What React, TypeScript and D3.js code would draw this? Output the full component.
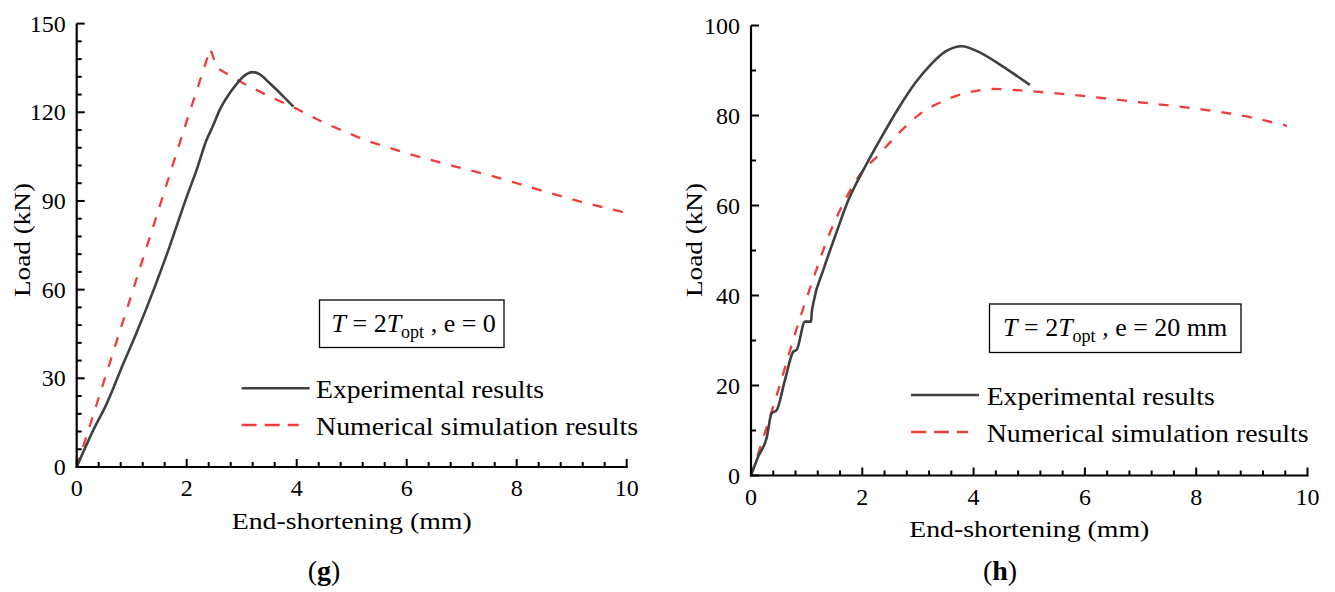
import React from 'react';
import * as d3 from 'd3';

type Pt = [number, number];

const xTicks = [0, 2, 4, 6, 8, 10];
const leftYTicks = [0, 30, 60, 90, 120, 150];
const rightYTicks = [0, 20, 40, 60, 80, 100];
const legendLabels = ['Experimental results', 'Numerical simulation results'];
const panelLetters = ['g', 'h'];
const eccentricityLabels = ['0', '20 mm'];
const xTitle = 'End-shortening (mm)';
const yTitle = 'Load (kN)';

const leftExperimental: Pt[] = [
  [0, 0], [0.33, 13.6], [0.51, 20.0], [0.85, 35.1], [1.09, 45.5], [1.39, 59.5],
  [1.64, 72.0], [2.0, 91.4], [2.18, 100.5], [2.36, 110.6], [2.48, 115.5],
  [2.6, 120.8], [2.75, 125.6], [2.91, 129.6], [3.05, 132.4], [3.2, 133.6], [3.33, 132.8],
  [3.51, 129.8], [3.76, 125.3], [3.94, 121.9],
];

const leftNumerical: Pt[] = [
  [0, 0], [1.0, 58.5], [2.0, 117.0], [2.43, 141.5], [2.55, 135.0],
  [3.03, 129.8], [3.51, 125.3], [3.99, 121.3], [4.51, 116.3], [5.27, 110.4],
  [6.06, 105.8], [6.85, 101.8], [7.64, 98.0], [8.42, 93.7], [9.21, 89.5], [10.0, 85.9],
];

const rightExperimental: Pt[] = [
  [0, 0], [0.13, 4.2], [0.28, 8.3], [0.37, 13.8], [0.46, 14.5], [0.61, 21.2],
  [0.76, 27.5], [0.82, 27.9], [0.97, 34.2], [1.08, 34.2], [1.09, 36.0],
  [1.12, 38.3], [1.30, 45.7], [1.51, 53.1], [1.75, 61.2], [2.02, 67.9],
  [2.35, 75.3], [2.65, 81.6], [2.95, 87.2], [3.25, 91.6], [3.49, 94.2],
  [3.79, 95.4], [4.08, 94.2], [4.44, 91.6], [4.80, 88.6], [5.01, 86.8],
];

const rightNumerical: Pt[] = [
  [0, 0], [0.19, 7.2], [0.49, 19.0], [0.85, 33.8], [1.09, 42.7], [1.39, 53.1],
  [1.69, 61.2], [1.93, 66.4], [2.29, 71.2], [2.65, 76.0], [3.01, 80.1],
  [3.49, 83.4], [3.97, 85.3], [4.38, 85.9], [4.92, 85.5], [5.67, 84.7],
  [6.87, 83.1], [8.07, 81.4], [8.85, 79.9], [9.63, 77.7],
];

const FONT = "'Liberation Serif', 'Times New Roman', serif";
const EXP_COLOR = '#404040';
const NUM_COLOR = '#f03c3c';

type Layout = {
  x0: number; x1: number; y0: number; y1: number;
  yMinorStep: number; smoothNum: boolean;
  yTitleX: number; yTitleY: number;
  xTitleBaseline: number;
  letterX: number; letterY: number;
  boxX: number; boxY: number; boxW: number; boxH: number; boxTextX: number; boxTextY: number;
  legX: number; legY1: number; legY2: number; legTextX: number;
};

const layouts: Layout[] = [
  {
    x0: 76.7, x1: 626.7, y0: 467, y1: 23.6, yMinorStep: 6, smoothNum: false,
    yTitleX: 30, yTitleY: 240, xTitleBaseline: 528.5,
    letterX: 324, letterY: 580,
    boxX: 319.5, boxY: 300, boxW: 184.5, boxH: 47.5, boxTextX: 331.5, boxTextY: 332,
    legX: 241.7, legY1: 388.3, legY2: 425, legTextX: 316,
  },
  {
    x0: 751, x1: 1307.5, y0: 475.5, y1: 25.5, yMinorStep: 10, smoothNum: true,
    yTitleX: 702, yTitleY: 240, xTitleBaseline: 537,
    letterX: 1000, letterY: 580,
    boxX: 989.5, boxY: 304, boxW: 251.5, boxH: 48.5, boxTextX: 1003, boxTextY: 336,
    legX: 911, legY1: 395, legY2: 432, legTextX: 986.7,
  },
];

function Panel({ L, yTicks, exp, num, letter, ecc }: {
  L: Layout; yTicks: number[]; exp: Pt[]; num: Pt[]; letter: string; ecc: string;
}) {
  const yMax = yTicks[yTicks.length - 1];
  const x = d3.scaleLinear().domain([0, 10]).range([L.x0, L.x1]);
  const y = d3.scaleLinear().domain([0, yMax]).range([L.y0, L.y1]);
  const expLine = d3.line<Pt>().x(d => x(d[0])).y(d => y(d[1])).curve(d3.curveMonotoneX);
  const numLine = d3.line<Pt>().x(d => x(d[0])).y(d => y(d[1]))
    .curve(L.smoothNum ? d3.curveMonotoneX : d3.curveLinear);
  const xMinor = d3.range(0, 26).map(i => i * 0.4).filter(v => Math.abs(v / 2 - Math.round(v / 2)) > 1e-6);
  const nMinorY = Math.round(yMax / L.yMinorStep);
  const yMinor = d3.range(0, nMinorY + 1).map(i => i * L.yMinorStep).filter(v => !yTicks.some(t => Math.abs(t - v) < 1e-6));
  const major = 8, minor = 5;
  return (
    <g>
      <path d={numLine(num) || ''} fill="none" stroke={NUM_COLOR} strokeWidth={2.3} strokeDasharray="10,11" />
      <path d={expLine(exp) || ''} fill="none" stroke={EXP_COLOR} strokeWidth={2.6} strokeLinejoin="round" />
      <line x1={L.x0} x2={L.x0} y1={L.y0 + 1} y2={L.y1} stroke="#000" strokeWidth={2.2} />
      <line x1={L.x0 - 1} x2={L.x1 + 1} y1={L.y0} y2={L.y0} stroke="#000" strokeWidth={2.2} />
      {xTicks.map(t => (
        <g key={'xt' + t}>
          <line x1={x(t)} x2={x(t)} y1={L.y0} y2={L.y0 - major} stroke="#000" strokeWidth={2} />
          <text x={x(t)} y={L.y0 + 29} textAnchor="middle" fontFamily={FONT} fontSize={24} fill="#000">{t}</text>
        </g>
      ))}
      {xMinor.map(t => (
        <line key={'xm' + t} x1={x(t)} x2={x(t)} y1={L.y0} y2={L.y0 - minor} stroke="#000" strokeWidth={2} />
      ))}
      {yTicks.map(t => (
        <g key={'yt' + t}>
          <line x1={L.x0} x2={L.x0 + major} y1={y(t)} y2={y(t)} stroke="#000" strokeWidth={2} />
          <text x={L.x0 - 11} y={y(t) + 8} textAnchor="end" fontFamily={FONT} fontSize={24} fill="#000">{t}</text>
        </g>
      ))}
      {yMinor.map(t => (
        <line key={'ym' + t} x1={L.x0} x2={L.x0 + minor} y1={y(t)} y2={y(t)} stroke="#000" strokeWidth={2} />
      ))}
      <text x={(L.x0 + L.x1) / 2} y={L.xTitleBaseline} textAnchor="middle" fontFamily={FONT} fontSize={24}
        textLength={240} lengthAdjust="spacingAndGlyphs" fill="#000">{xTitle}</text>
      <text transform={`translate(${L.yTitleX},${L.yTitleY}) rotate(-90)`} textAnchor="middle" fontFamily={FONT}
        fontSize={24} textLength={114} lengthAdjust="spacingAndGlyphs" fill="#000">{yTitle}</text>
      <text x={L.letterX} y={L.letterY} textAnchor="middle" fontFamily={FONT} fontSize={28} fill="#000">
        (<tspan fontWeight="bold">{letter}</tspan>)
      </text>
      <rect x={L.boxX} y={L.boxY} width={L.boxW} height={L.boxH} fill="#fff" stroke="#000" strokeWidth={1.3} />
      <text x={L.boxTextX} y={L.boxTextY} fontFamily={FONT} fontSize={26} fill="#000">
        <tspan fontStyle="italic">T</tspan>
        <tspan> = 2</tspan>
        <tspan fontStyle="italic">T</tspan>
        <tspan fontSize={18} dy={6}>opt</tspan>
        <tspan dy={-6}>{' , e = ' + ecc}</tspan>
      </text>
      <line x1={L.legX} x2={L.legX + 68} y1={L.legY1} y2={L.legY1} stroke={EXP_COLOR} strokeWidth={2.4} />
      <text x={L.legTextX} y={L.legY1 + 10} fontFamily={FONT} fontSize={25} textLength={228}
        lengthAdjust="spacingAndGlyphs" fill="#000">{legendLabels[0]}</text>
      <line x1={L.legX} x2={L.legX + 57} y1={L.legY2} y2={L.legY2} stroke={NUM_COLOR} strokeWidth={2.4}
        strokeDasharray="15,8" />
      <text x={L.legTextX} y={L.legY2 + 10} fontFamily={FONT} fontSize={25} textLength={322}
        lengthAdjust="spacingAndGlyphs" fill="#000">{legendLabels[1]}</text>
    </g>
  );
}

export default function App() {
  return (
    <svg width={1335} height={592} style={{ position: 'absolute', left: 0, top: 0, background: '#fff' }}>
      <rect x={0} y={0} width={1335} height={592} fill="#fff" />
      <Panel L={layouts[0]} yTicks={leftYTicks} exp={leftExperimental} num={leftNumerical}
        letter={panelLetters[0]} ecc={eccentricityLabels[0]} />
      <Panel L={layouts[1]} yTicks={rightYTicks} exp={rightExperimental} num={rightNumerical}
        letter={panelLetters[1]} ecc={eccentricityLabels[1]} />
    </svg>
  );
}
